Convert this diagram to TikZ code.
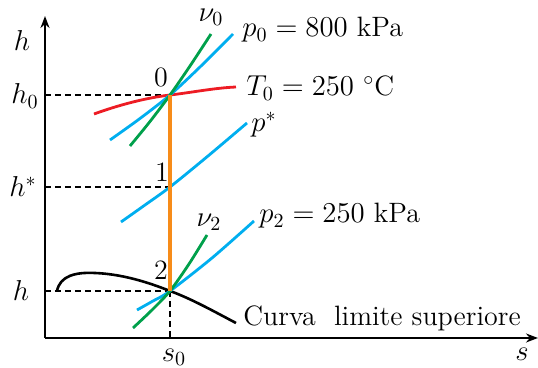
\documentclass[tikz,border=0pt]{standalone}
\usepackage{tikz}
\usetikzlibrary{arrows.meta}

\definecolor{isobarblue}{RGB}{0,174,239}
\definecolor{isochoregreen}{RGB}{0,160,75}
\definecolor{isothermred}{RGB}{237,28,36}
\definecolor{processorange}{RGB}{247,140,25}

\begin{document}
\begin{tikzpicture}[
        x=0.5pt, y=-0.5pt,
        font=\fontsize{14}{16}\selectfont,
        every node/.style={inner sep=1pt},
        axis/.style={line width=1pt, -{Stealth[length=6pt, width=4.5pt]}},
        guide/.style={densely dashed, line width=0.6pt},
        isobar/.style={isobarblue, line width=1.4pt},
        isochore/.style={isochoregreen, line width=1.4pt},
        isotherm/.style={isothermred, line width=1.4pt},
        process/.style={processorange, line width=1.7pt},
        limitcurve/.style={black, line width=1.3pt}
    ]

    \useasboundingbox (0,0) rectangle (538,368);

    % state points
    \coordinate (p0) at (170,95);
    \coordinate (p1) at (170,187);
    \coordinate (p2) at (170,291);
    \coordinate (origin) at (45,338);

    % axes
    \draw[axis] (origin) -- (45,16) coordinate (htip);
    \draw[axis] (origin) -- (538,338) coordinate (stip);
    \node (hlabel) at (22,41) {$h$};
    \node (slabel) at (522,354) {$s$};

    % guide lines
    \draw[guide] (45,95) -- (p0);
    \draw[guide] (45,187) -- (p1);
    \draw[guide] (45,291) -- (p2);
    \draw[guide] (p2) -- (170,338);
    \node (h0label) at (25,96) {$h_0$};
    \node (hstarlabel) at (23,187) {$h^{*}$};
    \node (hlowlabel) at (21,291) {$h$};
    \node (s0label) at (174,357) {$s_0$};

    % limit curve
    \draw[limitcurve] (57,291) .. controls (60,276) and (75,272) .. (95,273)
        .. controls (120,274) and (145,281) .. (p2)
        .. controls (192,299) and (215,312) .. (236,323);
    \node[anchor=base west] (limitlabel) at (241,326) {Curva\ \ limite superiore};

    % isotherm T0
    \draw[isotherm] (94,114) .. controls (119,105) and (145,98) .. (p0)
        .. controls (192,92.5) and (214,88) .. (236,87);
    \node[anchor=base west] (t0label) at (244,96) {$T_0 = 250$ $^{\circ}$C};

    % isobars
    \draw[isobar] plot[smooth] coordinates {(110,140) (140,118.5) (170,95) (200,67) (233,34)};
    \node[anchor=base west] (p0label) at (240,37) {$p_0 = 800$ kPa};

    \draw[isobar] plot[smooth] coordinates {(121,222) (145,205) (170,187) (208,156) (247,123)};
    \node[anchor=base west] (pstarlabel) at (249,132) {$p^{*}$};

    \draw[isobar] plot[smooth] coordinates {(137,310) (153,301) (170,291) (212,258) (254,221)};
    \node[anchor=base west] (p2label) at (257,223) {$p_2 = 250$ kPa};

    % isochores
    \draw[isochore] plot[smooth] coordinates {(130,146) (150,121.5) (170,95) (190,66) (211,34)};
    \node (v0label) at (211,17) {$\nu_0$};

    \draw[isochore] plot[smooth] coordinates {(133,328) (152,310) (170,291) (189,264) (207,235)};
    \node (v2label) at (209,222) {$\nu_2$};

    % expansion 0 -> 2
    \draw[process] (p0) -- (p2);
    \node (n0) at (161,77) {0};
    \node (n1) at (162,172) {1};
    \node (n2) at (161,270) {2};

\end{tikzpicture}
\end{document}
